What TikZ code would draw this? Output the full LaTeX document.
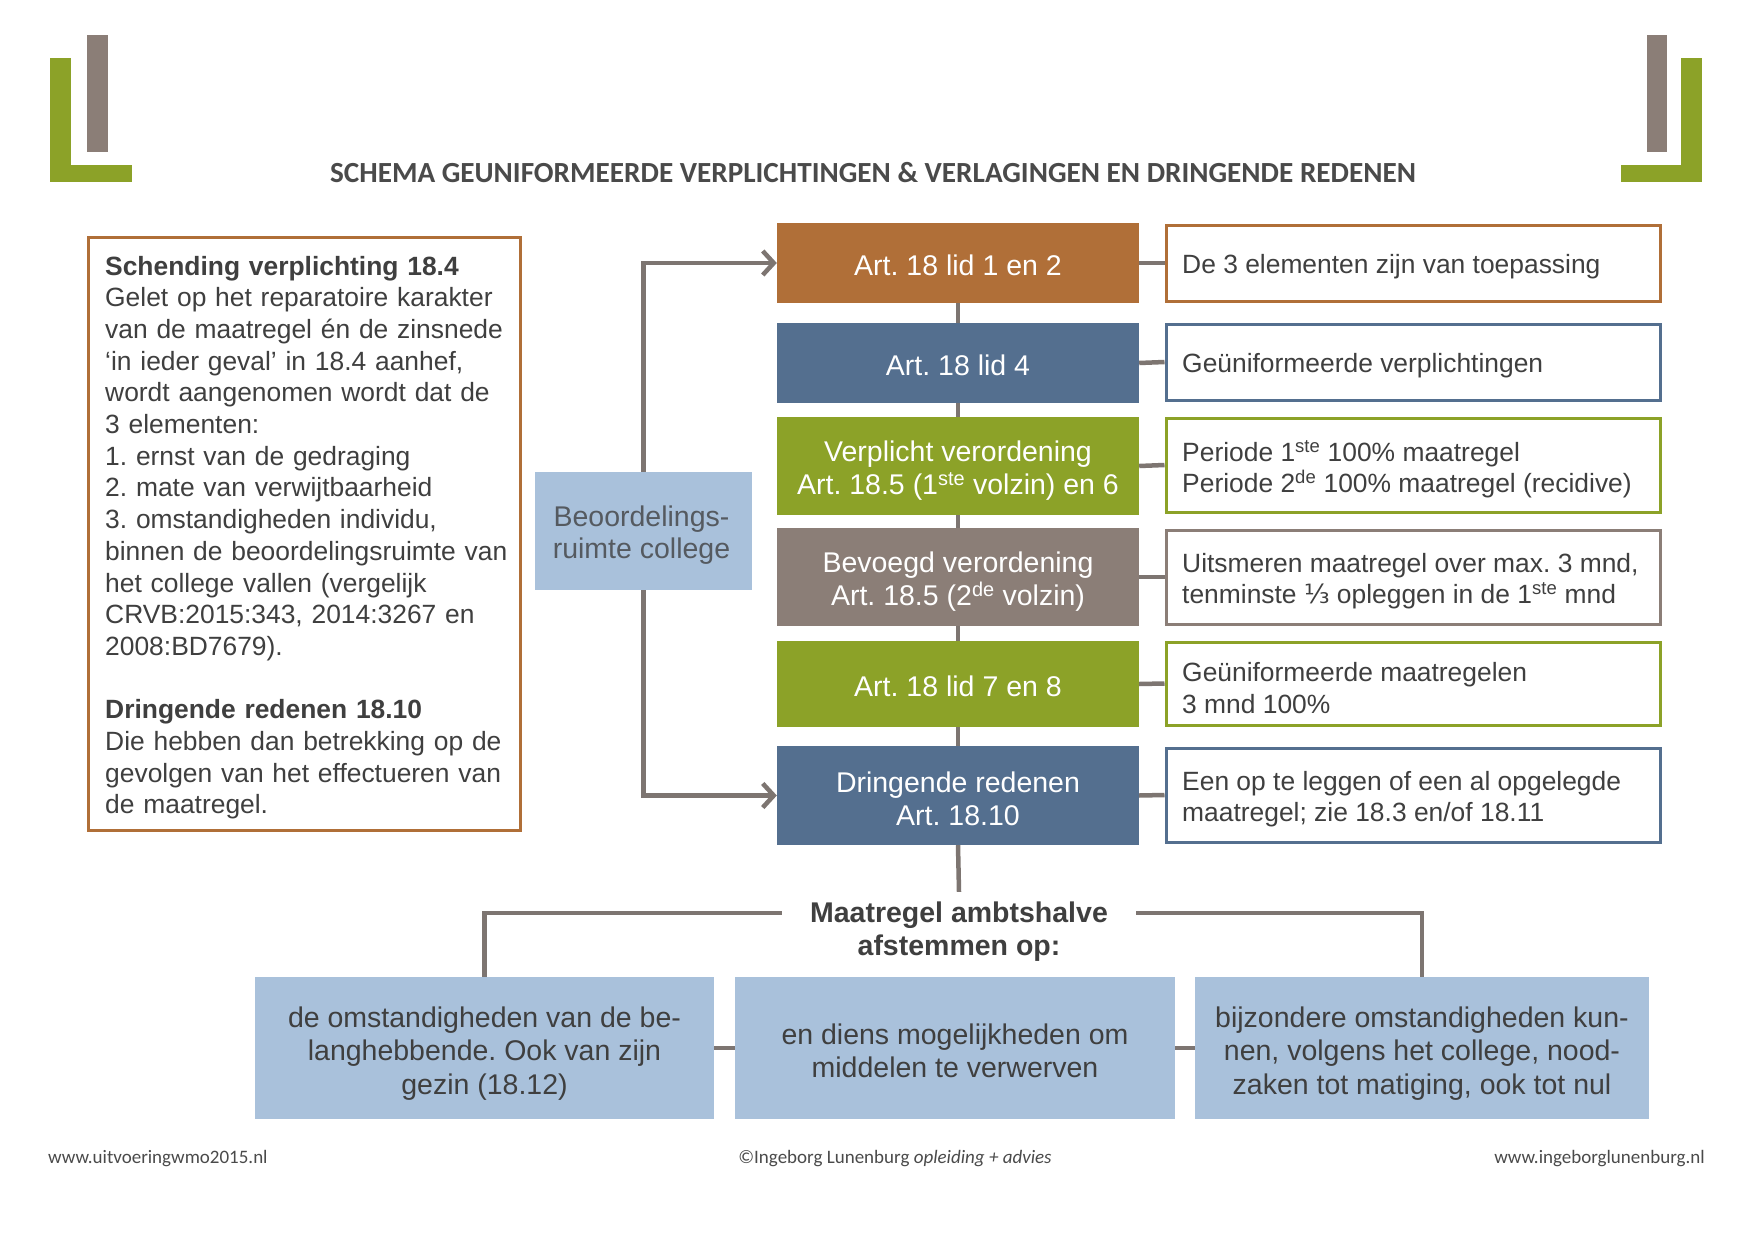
\documentclass[tikz,border=0pt]{standalone}
\usepackage{fontspec}
\setmainfont{Liberation Sans}
\newfontfamily\calibri{Carlito}
\newfontfamily\dejavu{DejaVu Sans}
\usetikzlibrary{arrows.meta}
\frenchspacing
\definecolor{corange}{HTML}{B06F38}
\definecolor{cblue}{HTML}{546F8F}
\definecolor{cgreen}{HTML}{8CA228}
\definecolor{cgraybox}{HTML}{8B7E77}
\definecolor{clight}{HTML}{A9C1DB}
\definecolor{cline}{HTML}{7D7571}
\definecolor{ctext}{HTML}{3F3F3F}
\definecolor{cbtext}{HTML}{555A60}
\definecolor{ctitle}{HTML}{4A4A4A}
\tikzset{
  conn/.style={draw=cline, line width=4.5pt},
  cbox/.style={rectangle, fill=#1, minimum width=362pt, inner sep=0pt},
  ctxt/.style={text=white, align=center, inner sep=0pt, font=\fontsize{28.5pt}{33pt}\selectfont},
  rbox/.style={rectangle, draw=#1, line width=3pt, fill=white, minimum width=494pt, inner sep=0pt},
  rtxt/.style={anchor=west, align=left, inner sep=0pt, text=ctext, font=\fontsize{26.4pt}{31.3pt}\selectfont},
  bbox/.style={rectangle, fill=clight, minimum height=142pt, inner sep=0pt},
  btxt/.style={text=ctext, align=center, inner sep=0pt, font=\fontsize{28.5pt}{33.5pt}\selectfont},
  foot/.style={text=ctitle, inner sep=0pt, font=\calibri\fontsize{19pt}{22pt}\selectfont},
}
\begin{document}
\begin{tikzpicture}[x=1pt,y=-1pt]
\useasboundingbox (0,0) rectangle (1754,1239);
\fill[white] (0,0) rectangle (1754,1239);

% corner decorations
\fill[cgreen] (50,58) rectangle (70.5,182);
\fill[cgreen] (50,165) rectangle (132,182);
\fill[cgraybox] (87,35) rectangle (108,152);
\fill[cgraybox] (1646.5,35) rectangle (1667,152);
\fill[cgreen] (1681,58) rectangle (1702,182);
\fill[cgreen] (1621,165) rectangle (1702,182);

% title
\node[anchor=base, inner sep=0pt, text=ctitle, font=\calibri\bfseries\fontsize{29.2pt}{34pt}\selectfont] (title) at (873,182)
  {SCHEMA GEUNIFORMEERDE VERPLICHTINGEN \& VERLAGINGEN EN DRINGENDE REDENEN};

% left text box
\node[rectangle, draw=corange, line width=3pt, fill=white, minimum width=432pt, minimum height=593pt] (left) at (304,533.5) {};
\node[anchor=base west, inner sep=0pt, text width=415pt, align=left, text=ctext,
  font=\fontsize{26.4pt}{31.7pt}\selectfont] (lefttext) at (105,275)
 {\textbf{Schending verplichting 18.4}\\
  Gelet op het reparatoire karakter\\
  van de maatregel én de zinsnede\\
  ‘in ieder geval’ in 18.4 aanhef,\\
  wordt aangenomen wordt dat de\\
  3 elementen:\\
  1. ernst van de gedraging\\
  2. mate van verwijtbaarheid\\
  3. omstandigheden individu,\\
  binnen de beoordelingsruimte van\\
  het college vallen (vergelijk\\
  CRVB:2015:343, 2014:3267 en\\
  2008:BD7679).\\[31.7pt]
  \textbf{Dringende redenen 18.10}\\
  Die hebben dan betrekking op de\\
  gevolgen van het effectueren van\\
  de maatregel.};

% Beoordelingsruimte
\node[rectangle, fill=clight, minimum width=217pt, minimum height=118pt, inner sep=0pt] (bo) at (643.5,531) {};
\node[text=cbtext, align=center, inner sep=0pt, font=\fontsize{28.5pt}{32pt}\selectfont] (botext)
  at ([xshift=-2pt,yshift=-4.5pt]bo.center) {Beoordelings-\\ruimte college};

% center column
\node[cbox=corange, minimum height=80pt] (c1) at (958,263) {};
\node[cbox=cblue, minimum height=80pt] (c2) at (958,363) {};
\node[cbox=cgreen, minimum height=98pt] (c3) at (958,466) {};
\node[cbox=cgraybox, minimum height=98pt] (c4) at (958,577) {};
\node[cbox=cgreen, minimum height=86pt] (c5) at (958,684) {};
\node[cbox=cblue, minimum height=99pt] (c6) at (958,795.5) {};
\node[ctxt] (ct1) at ([yshift=-2pt]c1.center) {Art. 18 lid 1 en 2};
\node[ctxt] (ct2) at ([yshift=-2pt]c2.center) {Art. 18 lid 4};
\node[ctxt] (ct3) at ([yshift=-4.5pt]c3.center) {Verplicht verordening\\Art. 18.5 (1\textsuperscript{ste} volzin) en 6};
\node[ctxt] (ct4) at ([yshift=-4.5pt]c4.center) {Bevoegd verordening\\Art. 18.5 (2\textsuperscript{de} volzin)};
\node[ctxt] (ct5) at ([yshift=-2pt]c5.center) {Art. 18 lid 7 en 8};
\node[ctxt] (ct6) at ([yshift=-3pt]c6.center) {Dringende redenen\\Art. 18.10};

% right column
\node[rbox=corange, minimum height=76pt] (r1) at (1413,263) {};
\node[rbox=cblue, minimum height=76pt] (r2) at (1413,362) {};
\node[rbox=cgreen, minimum height=94pt] (r3) at (1413,465) {};
\node[rbox=cgraybox, minimum height=94pt] (r4) at (1413,577) {};
\node[rbox=cgreen, minimum height=83pt] (r5) at (1413,683.5) {};
\node[rbox=cblue, minimum height=94pt] (r6) at (1413,795) {};
\node[rtxt] (rt1) at ([xshift=17.5pt,yshift=-4pt]r1.west) {De 3 elementen zijn van toepassing};
\node[rtxt] (rt2) at ([xshift=17.5pt,yshift=-4pt]r2.west) {Geüniformeerde verplichtingen};
\node[rtxt] (rt3) at ([xshift=17.5pt,yshift=-4.5pt]r3.west) {Periode 1\textsuperscript{ste} 100\% maatregel\\Periode 2\textsuperscript{de} 100\% maatregel (recidive)};
\node[rtxt] (rt4) at ([xshift=17.5pt,yshift=-4.5pt]r4.west) {Uitsmeren maatregel over max. 3 mnd,\\tenminste {\dejavu ⅓} opleggen in de 1\textsuperscript{ste} mnd};
\node[rtxt] (rt5) at ([xshift=17.5pt,yshift=-4.5pt]r5.west) {Geüniformeerde maatregelen\\3 mnd 100\%};
\node[rtxt] (rt6) at ([xshift=17.5pt,yshift=-4.5pt]r6.west) {Een op te leggen of een al opgelegde\\maatregel; zie 18.3 en/of 18.11};

% bottom label
\node[anchor=base, inner xsep=28pt, inner ysep=12pt, text height=18pt, text depth=0pt, text=ctext,
  font=\bfseries\fontsize{28.5pt}{33.5pt}\selectfont] (lab1) at (959,922) {Maatregel ambtshalve};
\node[anchor=base, inner sep=0pt, text=ctext,
  font=\bfseries\fontsize{28.5pt}{33.5pt}\selectfont] (lab2) at (959,955) {afstemmen op:};

% bottom boxes
\node[bbox, minimum width=459pt] (b1) at (484.5,1048) {};
\node[bbox, minimum width=440pt] (b2) at (955,1048) {};
\node[bbox, minimum width=454pt] (b3) at (1422,1048) {};
\node[btxt] (bt1) at ([yshift=-5.5pt]b1.center) {de omstandigheden van de be-\\langhebbende. Ook van zijn\\gezin (18.12)};
\node[btxt] (bt2) at ([yshift=-3pt]b2.center) {en diens mogelijkheden om\\middelen te verwerven};
\node[btxt] (bt3) at ([yshift=-5.5pt]b3.center) {bijzondere omstandigheden kun-\\nen, volgens het college, nood-\\zaken tot matiging, ook tot nul};

% footer
\node[foot, anchor=base west] (f1) at (48,1163.5) {www.uitvoeringwmo2015.nl};
\node[foot, anchor=base] (f2) at (895,1163.5) {©Ingeborg Lunenburg \textit{opleiding + advies}};
\node[foot, anchor=base east] (f3) at (1705,1163.5) {www.ingeborglunenburg.nl};

% connectors
\draw[conn] (c1) -- (c2);
\draw[conn] (c2) -- (c3);
\draw[conn] (c3) -- (c4);
\draw[conn] (c4) -- (c5);
\draw[conn] (c5) -- (c6);
\draw[conn] (c1.east) -- (r1.west);
\draw[conn] (c2.east) -- (r2.west);
\draw[conn] (c3.east) -- (r3.west);
\draw[conn] (c4.east) -- (r4.west);
\draw[conn] (c5.east) -- (r5.west);
\draw[conn] (c6.east) -- (r6.west);
\draw[conn, -{Straight Barb[length=11pt,width=24pt]}] (bo.north) |- (c1.west);
\draw[conn, -{Straight Barb[length=11pt,width=24pt]}] (bo.south) |- (c6.west);
\draw[conn] (c6.south) -- (lab1.north);
\draw[conn] (lab1.west) -| (b1.north);
\draw[conn] (lab1.east) -| (b3.north);
\draw[conn] (b1.east) -- (b2.west);
\draw[conn] (b2.east) -- (b3.west);
\end{tikzpicture}
\end{document}
